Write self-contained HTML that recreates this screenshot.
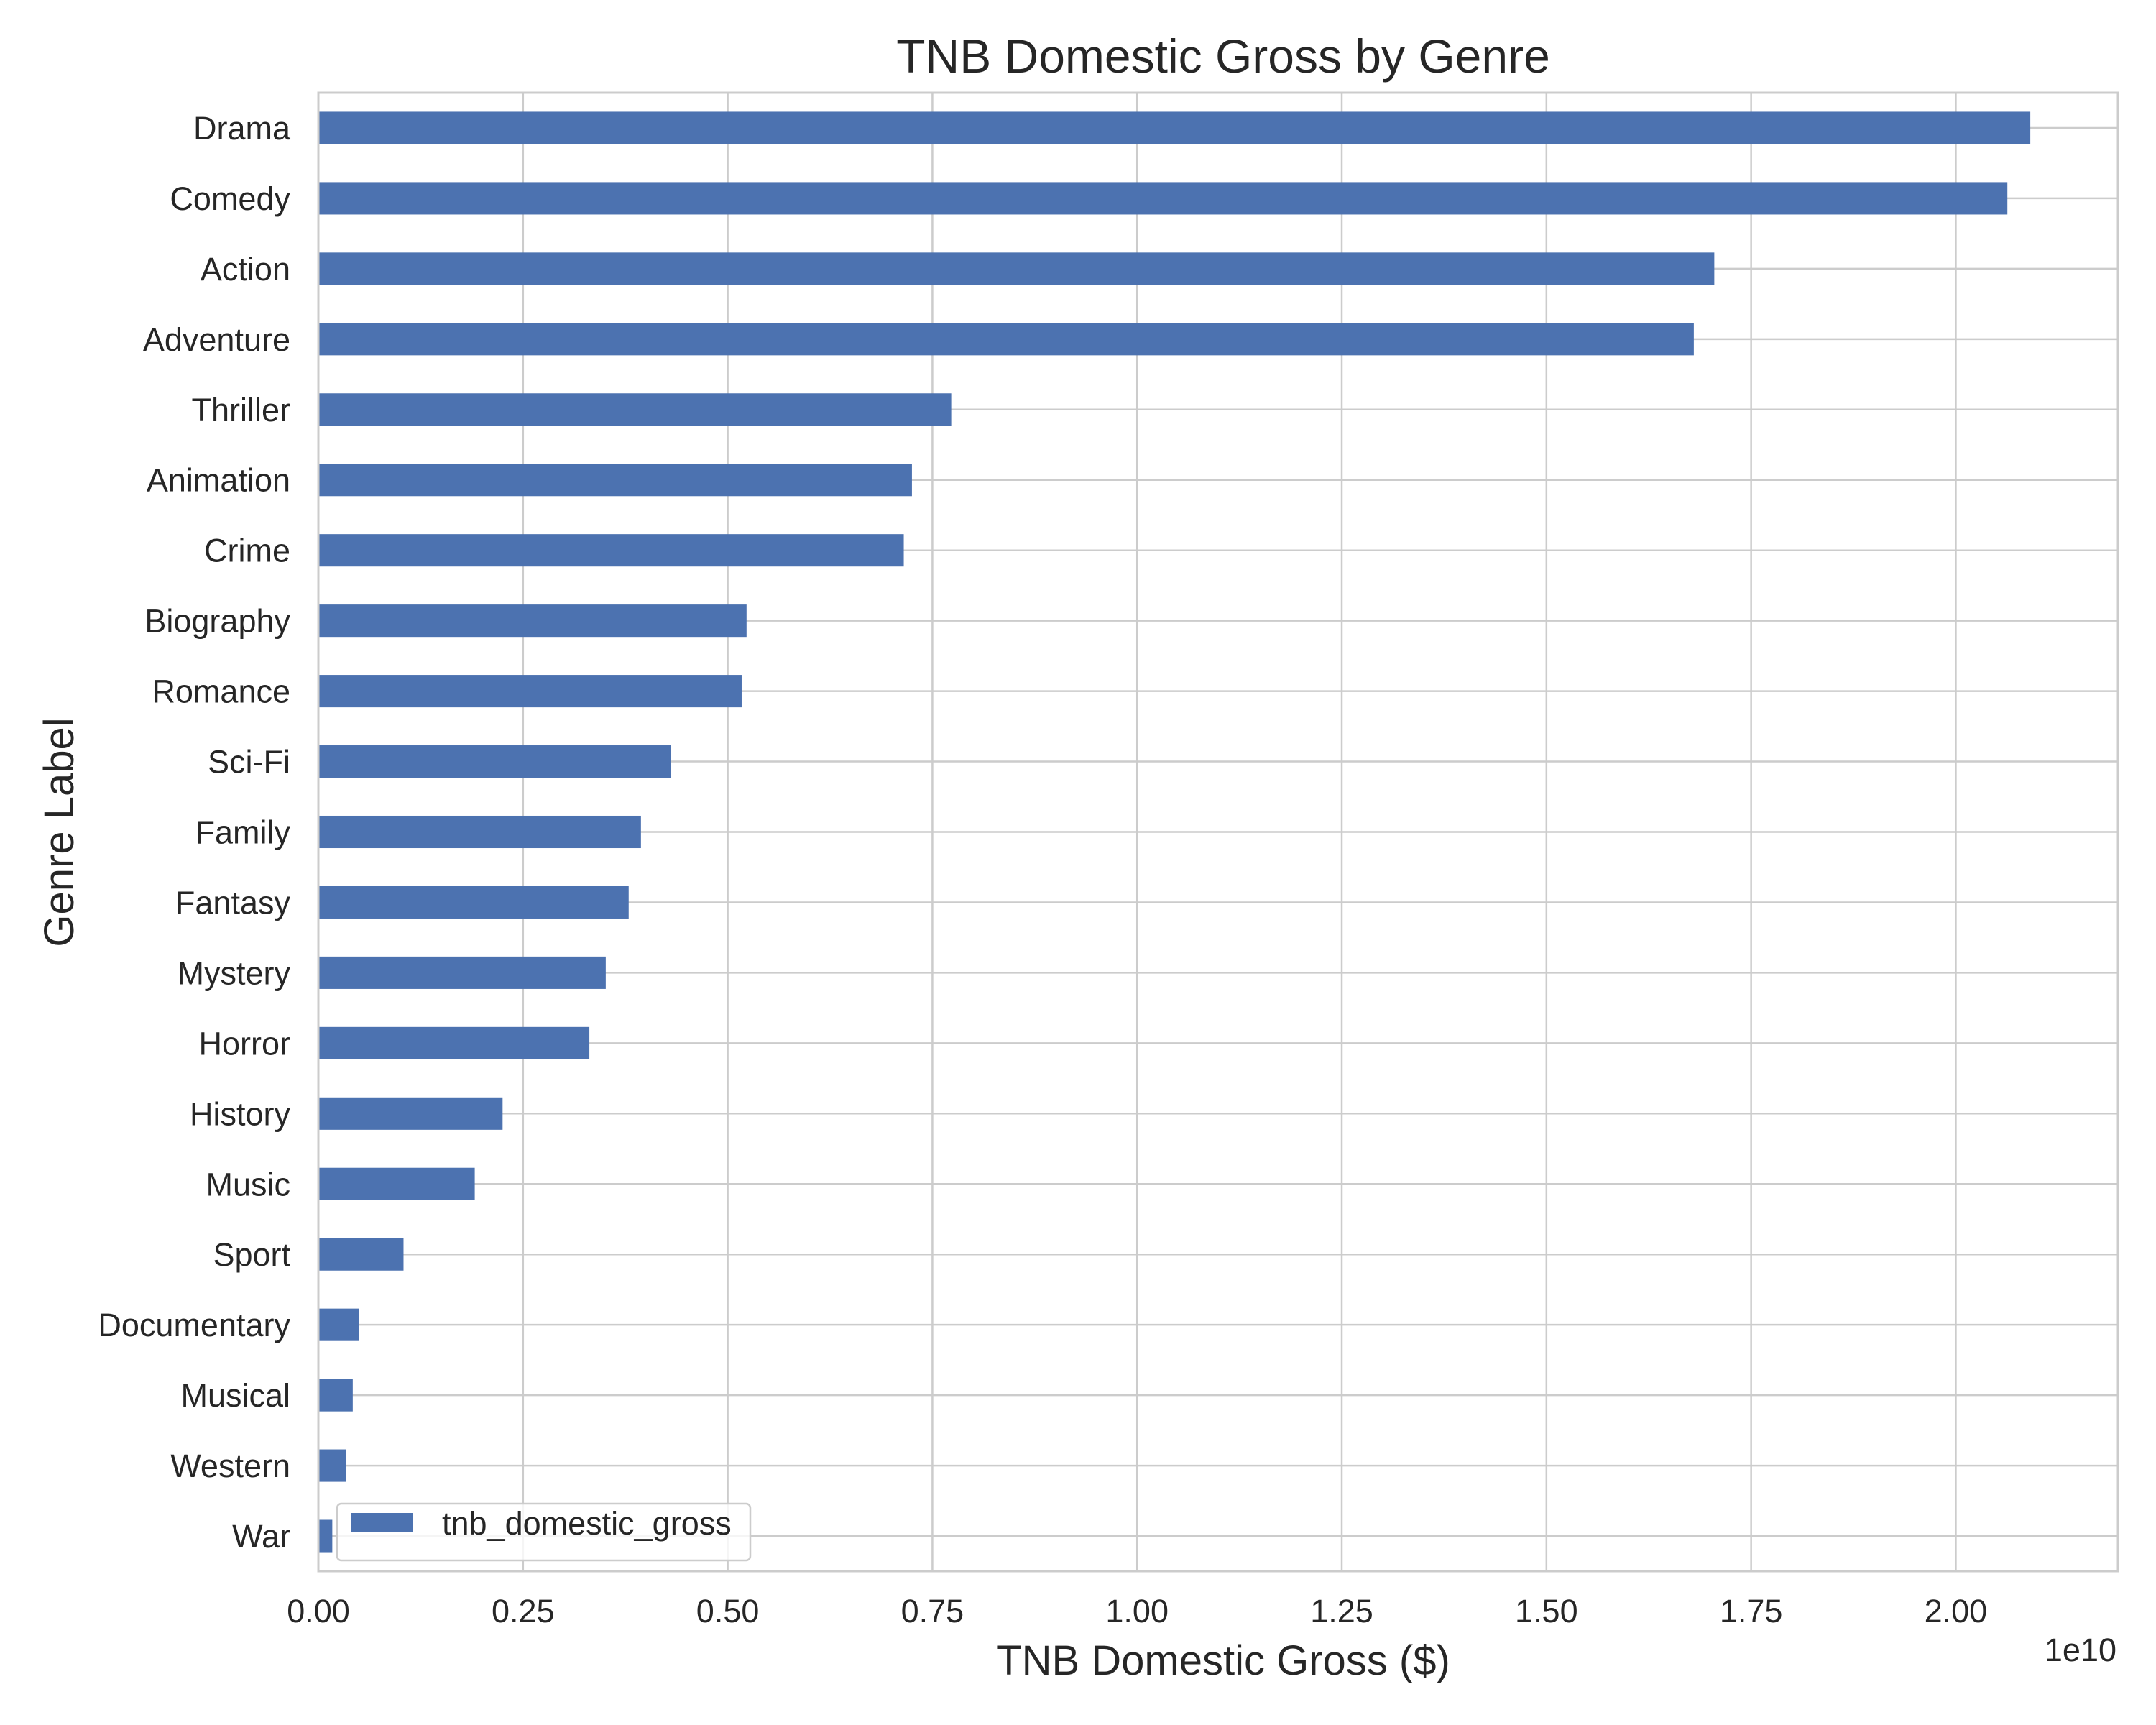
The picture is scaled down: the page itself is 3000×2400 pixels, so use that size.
<!DOCTYPE html>
<html><head><meta charset="utf-8"><style>
html,body{margin:0;padding:0;background:#fff;}
svg{display:block;font-family:"Liberation Sans",Arial,sans-serif;}
</style></head><body>
<svg id="chart" width="3000" height="2400" viewBox="0 0 3000 2400">
<rect width="3000" height="2400" fill="#fff"/>
<g id="grid"></g><g id="bars"></g><g id="ticks"></g>
<rect x="443" y="129" width="2504" height="2057" fill="none" stroke="#cccccc" stroke-width="3"/>
<text x="1702" y="101" font-size="66" text-anchor="middle" fill="#262626">TNB Domestic Gross by Genre</text>
<text x="1702" y="2330" font-size="58" text-anchor="middle" fill="#262626">TNB Domestic Gross ($)</text>
<text x="2945" y="2311" font-size="45" text-anchor="end" fill="#262626">1e10</text>
<text transform="translate(102,1158) rotate(-90)" font-size="58" text-anchor="middle" fill="#262626">Genre Label</text>
<g>
<rect x="469" y="2092" width="575" height="79" rx="6" fill="#fff" fill-opacity="0.8" stroke="#cccccc" stroke-width="2.5"/>
<rect x="488" y="2105" width="87" height="27" fill="#4c72b0"/>
<text x="615" y="2135" font-size="45" fill="#262626">tnb_domestic_gross</text>
</g>
</svg>
<script>
const categories=["Drama","Comedy","Action","Adventure","Thriller","Animation","Crime","Biography","Romance","Sci-Fi","Family","Fantasy","Mystery","Horror","History","Music","Sport","Documentary","Musical","Western","War"];
const values=[2.091,2.063,1.705,1.680,0.773,0.725,0.715,0.523,0.517,0.431,0.394,0.379,0.351,0.331,0.225,0.191,0.104,0.050,0.042,0.034,0.017];
const xTicks=[0,0.25,0.5,0.75,1.0,1.25,1.5,1.75,2.0];
const xTickLabels=["0.00","0.25","0.50","0.75","1.00","1.25","1.50","1.75","2.00"];
const NS="http://www.w3.org/2000/svg";
const L=443,R=2947,T=129,B=2186,XMAX=2.198;
function xs(v){return L+(v/XMAX)*(R-L);}
const step=(B-T)/categories.length;
function ys(i){return T+step*(i+0.5);}
function mk(t,a,p){const e=document.createElementNS(NS,t);for(const k in a)e.setAttribute(k,a[k]);p.appendChild(e);return e;}
const grid=document.getElementById('grid'),bars=document.getElementById('bars'),ticks=document.getElementById('ticks');
xTicks.forEach((v,i)=>{
 const x=xs(v);
 const g=mk('line',{x1:x,x2:x,y1:T,y2:B,stroke:'#cccccc','stroke-width':2.5},grid);
 
 
 const t=mk('text',{x:x,y:2257,'font-size':45,'text-anchor':'middle',fill:'#262626'},ticks);
 t.textContent=xTickLabels[i];
 
 
});
categories.forEach((c,i)=>{
 const y=ys(i);
 const g=mk('line',{x1:L,x2:R,y1:y,y2:y,stroke:'#cccccc','stroke-width':2.5},grid);
 
 
 const h=step*0.46;
 const b=mk('rect',{x:L,y:y-h/2,width:xs(values[i])-L,height:h,fill:'#4c72b0'},bars);
 
 
 const t=mk('text',{x:404,y:y+16,'font-size':45,'text-anchor':'end',fill:'#262626'},ticks);
 t.textContent=c;
 
 
});
</script>
</body></html>
